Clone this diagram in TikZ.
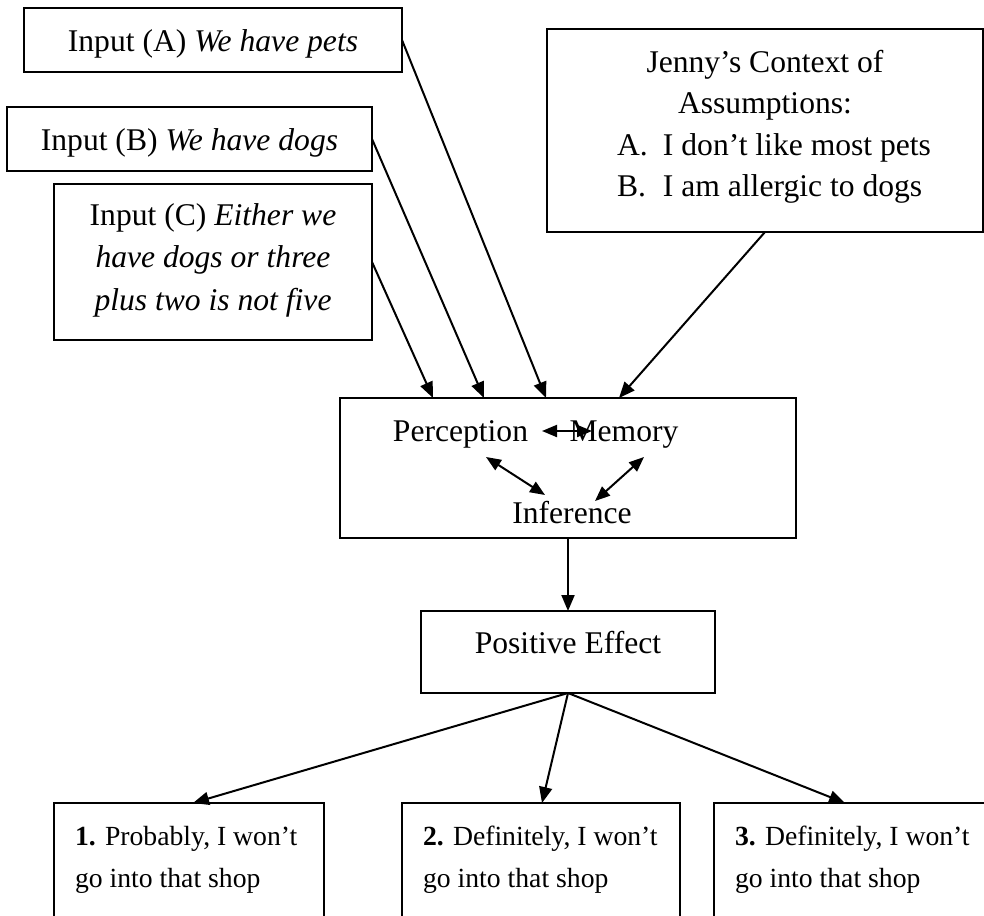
\documentclass[tikz,border=0pt]{standalone}
\usepackage{fontspec}
\setmainfont{Liberation Serif}
\usetikzlibrary{arrows.meta}
\newcommand\fsMain{\fontsize{31.6}{42.5}\selectfont}
\newcommand\fsJen{\fontsize{31.6}{41}\selectfont}
\newcommand\fsSmall{\fontsize{27.7}{42}\selectfont}
\begin{document}
\begin{tikzpicture}[x=1pt,y=-1pt,
  box/.style={draw, line width=2pt, inner sep=0pt, outer sep=0pt},
  txt/.style={inner sep=0pt, outer sep=0pt, anchor=base, font=\fsMain},
  arr/.style={line width=2pt, -{Triangle[length=16pt,width=13pt]}},
  darr/.style={line width=2pt, {Triangle[length=15pt,width=12pt]}-{Triangle[length=15pt,width=12pt]}}
]
\useasboundingbox (0,0) rectangle (984,915);
\clip (0,0) rectangle (984,915);

% input boxes
\node[box, minimum width=378pt, minimum height=64pt] (A) at (213,40) {};
\node[txt] (At) at (213,52) {Input (A) \textit{We have pets}};

\node[box, minimum width=365pt, minimum height=64pt] (B) at (189.5,139) {};
\node[txt] (Bt) at (189.5,150) {Input (B) \textit{We have dogs}};

\node[box, minimum width=318pt, minimum height=156pt] (C) at (213,262) {};
\node[txt] (Ct) at (213,225) {\begin{tabular}[t]{@{}c@{}}Input (C) \textit{Either we}\\ \textit{have dogs or three}\\ \textit{plus two is not five}\end{tabular}};

% context box
\node[box, minimum width=436pt, minimum height=203pt] (jenny) at (765,130.5) {};
\node[txt, font=\fsJen] (jt) at (765,73) {\begin{tabular}[t]{@{}c@{}}Jenny’s Context of\\ Assumptions:\end{tabular}};
\node[txt, font=\fsJen, anchor=base west] (jl) at (617,155) {\begin{tabular}[t]{@{}p{46pt}@{}l@{}}A. & I don’t like most pets\\ B. & I am allergic to dogs\end{tabular}};

% processing box
\node[box, minimum width=456pt, minimum height=140pt] (mid) at (568,468) {};
\node[txt] (perc) at (460.5,441) {Perception};
\node[txt] (mem) at (624,441) {Memory};
\node[txt] (inf) at (572,523) {Inference};

% effect box
\node[box, minimum width=294pt, minimum height=82pt] (PE) at (568,652) {};
\node[txt] (PEt) at (568,653) {Positive Effect};

% outcome boxes
\node[box, minimum width=270pt, minimum height=160pt] (b1) at (189,883) {};
\node[txt, font=\fsSmall, anchor=base west] (b1t) at (75,845) {\begin{tabular}[t]{@{}l@{}}\textbf{1.} Probably, I won’t\\ go into that shop\end{tabular}};
\node[box, minimum width=278pt, minimum height=160pt] (b2) at (541,883) {};
\node[txt, font=\fsSmall, anchor=base west] (b2t) at (423,845) {\begin{tabular}[t]{@{}l@{}}\textbf{2.} Definitely, I won’t\\ go into that shop\end{tabular}};
\node[box, minimum width=286pt, minimum height=160pt] (b3) at (857,883) {};
\node[txt, font=\fsSmall, anchor=base west] (b3t) at (735,845) {\begin{tabular}[t]{@{}l@{}}\textbf{3.} Definitely, I won’t\\ go into that shop\end{tabular}};

% connectors into processing box
\draw[arr] (A.east) -- ([xshift=-22pt]mid.north);
\draw[arr] (B.east) -- ([xshift=-84pt]mid.north);
\draw[arr] (C.east) -- ([xshift=-135pt]mid.north);
\draw[arr] (jenny.south) -- ([xshift=51pt]mid.north);

% inner connectors
\draw[darr] ([shift={(81.5,-10)}]perc.base) -- ([shift={(-32,-10)}]mem.base);
\draw[darr] ([shift={(25.5,16)}]perc.base) -- ([shift={(-27,-28)}]inf.base);
\draw[darr] ([shift={(20,16)}]mem.base) -- ([shift={(23,-22)}]inf.base);

% downstream
\draw[arr] (mid.south) -- (PE.north);
\draw[arr] (PE.south) -- ([xshift=4pt]b1.north);
\draw[arr] (PE.south) -- ([xshift=1pt]b2.north);
\draw[arr] (PE.south) -- ([xshift=-12pt]b3.north);
\end{tikzpicture}
\end{document}
